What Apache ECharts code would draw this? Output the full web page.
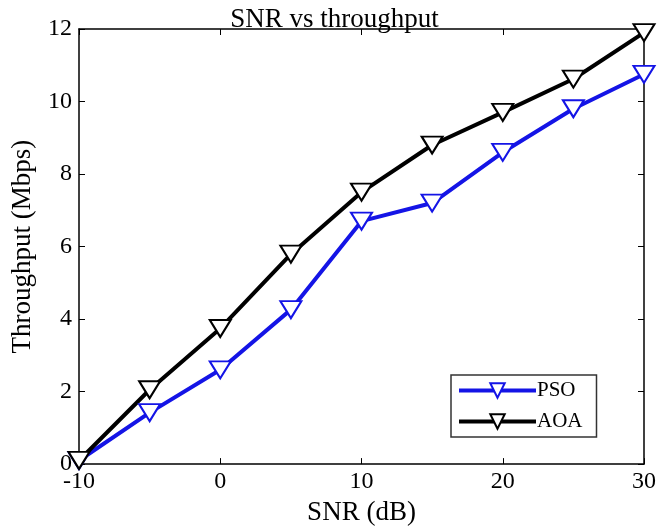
<!DOCTYPE html>
<html><head><meta charset="utf-8">
<script src="https://cdn.jsdelivr.net/npm/echarts@6/dist/echarts.min.js"></script>
<style>html,body{margin:0;padding:0;background:#fff}#c{width:669px;height:531px}</style>
</head><body><div id="c"></div>
<script>
const snr = [-10, -5, 0, 5, 10, 15, 20, 25, 30];
const pso = [0.1, 1.42, 2.6, 4.26, 6.7, 7.2, 8.6, 9.8, 10.75];
const aoa = [0.1, 2.05, 3.74, 5.79, 7.5, 8.8, 9.7, 10.62, 11.9];
const font = 'Liberation Serif';
const chart = echarts.init(document.getElementById('c'));
const axLine = {show: true, onZero: false, lineStyle: {color: '#000', width: 1.5}};
const tickIn = {show: true, inside: true, length: 6, lineStyle: {color: '#000', width: 1}};
chart.setOption({
  animation: false,
  title: {text: 'SNR vs throughput', left: 'center', top: 1,
    textStyle: {fontFamily: font, fontSize: 27, fontWeight: 'normal', color: '#000'}},
  grid: {left: 79, right: 25, top: 29, bottom: 63},
  legend: {
    left: 451, top: 375, orient: 'vertical', itemWidth: 77, itemHeight: 18, itemGap: 10,
    padding: [5, 14, 5, 6], borderColor: '#333', borderWidth: 1.5,
    lineStyle: {width: 4},
    textStyle: {fontFamily: font, fontSize: 21, color: '#000', padding: [0, 0, 0, -4]},
    data: ['PSO', 'AOA']
  },
  xAxis: [{
    type: 'value', min: -10, max: 30, interval: 10,
    name: 'SNR (dB)', nameLocation: 'middle', nameGap: 33,
    nameTextStyle: {fontFamily: font, fontSize: 27, color: '#000'},
    axisLine: axLine, axisTick: tickIn, splitLine: {show: false},
    axisLabel: {fontFamily: font, fontSize: 24, color: '#000', margin: 6}
  }, {
    type: 'value', position: 'top', min: -10, max: 30, interval: 10,
    axisLine: axLine, axisTick: tickIn, splitLine: {show: false}, axisLabel: {show: false}
  }],
  yAxis: [{
    type: 'value', min: 0, max: 12, interval: 2,
    name: 'Throughput (Mbps)', nameLocation: 'middle', nameGap: 43,
    nameTextStyle: {fontFamily: font, fontSize: 27, color: '#000'},
    axisLine: axLine, axisTick: tickIn, splitLine: {show: false},
    axisLabel: {fontFamily: font, fontSize: 24, color: '#000', margin: 7}
  }, {
    type: 'value', position: 'right', min: 0, max: 12, interval: 2,
    axisLine: axLine, axisTick: tickIn, splitLine: {show: false}, axisLabel: {show: false}
  }],
  series: [{
    name: 'PSO', type: 'line', data: snr.map((x, i) => [x, pso[i]]),
    symbol: 'emptyTriangle', symbolRotate: 180, symbolSize: [21, 17],
    lineStyle: {color: '#1414e6', width: 4},
    itemStyle: {color: '#1414e6', borderColor: '#1414e6', borderWidth: 5}
  }, {
    name: 'AOA', type: 'line', data: snr.map((x, i) => [x, aoa[i]]),
    symbol: 'emptyTriangle', symbolRotate: 180, symbolSize: [21, 17],
    lineStyle: {color: '#000', width: 4},
    itemStyle: {color: '#000', borderColor: '#000', borderWidth: 5}
  }]
});
</script></body></html>
